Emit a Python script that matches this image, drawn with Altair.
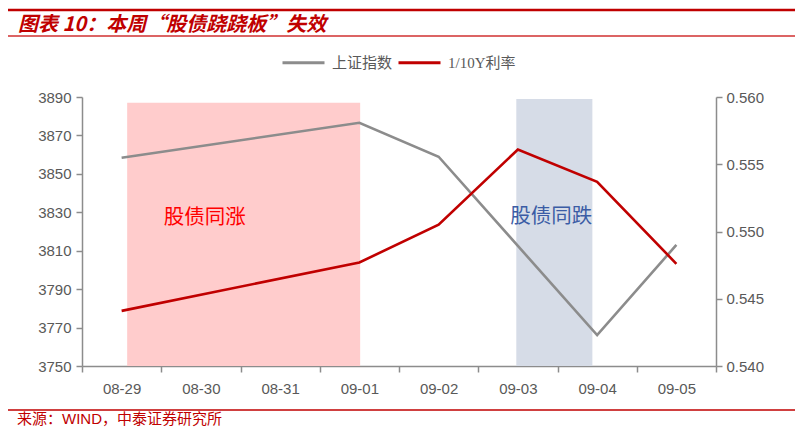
import altair as alt
import pandas as pd

# ---------------- data ----------------
categories = ["08-29", "08-30", "08-31", "09-01", "09-02", "09-03", "09-04", "09-05"]

sh_dates = ["08-29", "09-01", "09-02", "09-03", "09-04", "09-05"]
sh_values = [3858.4, 3876.6, 3858.9, 3812.5, 3766.1, 3813.0]

rate_dates = ["08-29", "09-01", "09-02", "09-03", "09-04", "09-05"]
rate_values = [0.5441, 0.5477, 0.5505, 0.5561, 0.5537, 0.5476]

series_names = ["上证指数", "1/10Y利率"]
series_colors = ["#8C8C8C", "#C00000"]

band_labels = ["股债同涨", "股债同跌"]
band_start = [0.07, 4.98]      # in category-index units
band_end = [3.01, 5.94]
band_top = [3887, 3889]
band_label_x = [1.05, 5.42]
band_label_y = [3827, 3827.5]
band_fill = ["#FFCCCC", "#D6DCE7"]
band_text_color = ["#FF0000", "#3B5CA5"]

title_text = "图表 10：本周“股债跷跷板”失效"
source_text = "来源：WIND，中泰证券研究所"

left_ticks = list(range(3750, 3891, 20))
right_ticks = [0.540, 0.545, 0.550, 0.555, 0.560]

# ---------------- frames ----------------
sh_df = pd.DataFrame({
    "idx": [categories.index(d) for d in sh_dates],
    "value": sh_values,
    "series": series_names[0],
})
rate_df = pd.DataFrame({
    "idx": [categories.index(d) for d in rate_dates],
    "value": rate_values,
    "series": series_names[1],
})
band_df = pd.DataFrame({
    "label": band_labels, "start": band_start, "end": band_end, "top": band_top,
    "lx": band_label_x, "ly": band_label_y, "fill": band_fill, "tcolor": band_text_color,
})

W, H = 634, 269
AXIS_GREY = "#8C8C8C"
LABEL_GREY = "#595959"

cat_js = "[" + ",".join("'%s'" % c for c in categories) + "]"
x_scale = alt.Scale(domain=[-0.5, len(categories) - 0.5], nice=False, zero=False)
x_axis = alt.Axis(
    values=[i - 0.5 for i in range(len(categories) + 1)],
    labelExpr=f"datum.value + 0.5 < {len(categories)} ? {cat_js}[datum.value + 0.5] : ''",
    labelOffset=W / len(categories) / 2,
    labelOverlap=False, labelFlush=False, labelBound=False,
    grid=False, title=None, tickSize=6, labelPadding=9,
)
left_scale = alt.Scale(domain=[3750, 3890], nice=False, zero=False)
right_scale = alt.Scale(domain=[0.540, 0.560], nice=False, zero=False)
left_axis = alt.Axis(
    values=left_ticks, tickCount=len(left_ticks), format="d", labelOverlap=False,
    labelFlush=False, grid=False, title=None, tickSize=6, labelPadding=5)

color_scale = alt.Scale(domain=series_names, range=series_colors)

bands = alt.Chart(band_df).mark_rect().encode(
    x=alt.X("start:Q", scale=x_scale, axis=x_axis),
    x2="end:Q",
    y=alt.Y("top:Q", scale=left_scale, axis=left_axis),
    y2=alt.datum(3750),
    fill=alt.Fill("fill:N", scale=None),
)

band_text = alt.Chart(band_df).mark_text(
    font="Noto Sans CJK SC", fontSize=20.5, baseline="middle", align="center"
).encode(
    x=alt.X("lx:Q", scale=x_scale, axis=x_axis),
    y=alt.Y("ly:Q", scale=left_scale, axis=left_axis),
    text="label:N",
    color=alt.Color("tcolor:N", scale=None),
)

legend = alt.Legend(
    orient="none", legendX=199, legendY=-57, direction="horizontal", columns=2,
    title=None, symbolType="stroke", symbolSize=1764, symbolStrokeWidth=3,
    labelFont="Liberation Serif, Noto Sans CJK SC", labelFontSize=15,
    labelColor=LABEL_GREY, labelOffset=6, columnPadding=-1, padding=0,
)

sh_line = alt.Chart(sh_df).mark_line(strokeWidth=2.6).encode(
    x=alt.X("idx:Q", scale=x_scale, axis=x_axis),
    y=alt.Y("value:Q", scale=left_scale, axis=left_axis),
    color=alt.Color("series:N", scale=color_scale, legend=legend),
)

rate_line = alt.Chart(rate_df).mark_line(strokeWidth=2.6).encode(
    x=alt.X("idx:Q", scale=x_scale, axis=x_axis),
    y=alt.Y("value:Q", scale=right_scale, axis=alt.Axis(
        orient="right", values=right_ticks, format=".3f", labelOverlap=False,
        labelFlush=False, grid=False, title=None, tickSize=6, labelPadding=4)),
    color=alt.Color("series:N", scale=color_scale, legend=legend),
)

left_layer = alt.layer(bands, band_text, sh_line)
main = alt.layer(left_layer, rate_line).resolve_scale(y="independent")

# decorations (page furniture: title, rules, source)
RED = "#C00000"
deco_df = pd.DataFrame({"title": [title_text], "source": [source_text]})
top_rule = alt.Chart(deco_df).mark_rule(color=RED, strokeWidth=2.6).encode(
    x=alt.value(-74), x2=alt.value(715), y=alt.value(-87))
sub_rule = alt.Chart(deco_df).mark_rule(color="#D03030", strokeWidth=1.3).encode(
    x=alt.value(-74), x2=alt.value(715), y=alt.value(-61))
bottom_rule = alt.Chart(deco_df).mark_rule(color=RED, strokeWidth=1.3).encode(
    x=alt.value(-74), x2=alt.value(716), y=alt.value(313))
title_mark = alt.Chart(deco_df).mark_text(
    font="Noto Sans CJK SC", fontSize=20, fontWeight="bold", fontStyle="italic",
    color=RED, align="left", baseline="middle").encode(
    x=alt.value(-64), y=alt.value(-72), text="title:N")
source_mark = alt.Chart(deco_df).mark_text(
    font="Liberation Sans, Noto Sans CJK SC", fontSize=15,
    color=RED, align="left", baseline="middle").encode(
    x=alt.value(-65), y=alt.value(322), text="source:N")

chart = alt.layer(
    main, top_rule, sub_rule, bottom_rule, title_mark, source_mark
).properties(
    width=W, height=H,
    autosize=alt.AutoSizeParams(type="none"),
    padding={"left": 74, "top": 89, "right": 79, "bottom": 62},
).configure_view(stroke=None).configure_axis(
    domainColor=AXIS_GREY, tickColor=AXIS_GREY, domainWidth=1.5, tickWidth=1.5,
    labelColor=LABEL_GREY, labelFont="Liberation Sans", labelFontSize=15,
)

chart.save("out.html", embed_options={"renderer": "svg", "actions": False})
